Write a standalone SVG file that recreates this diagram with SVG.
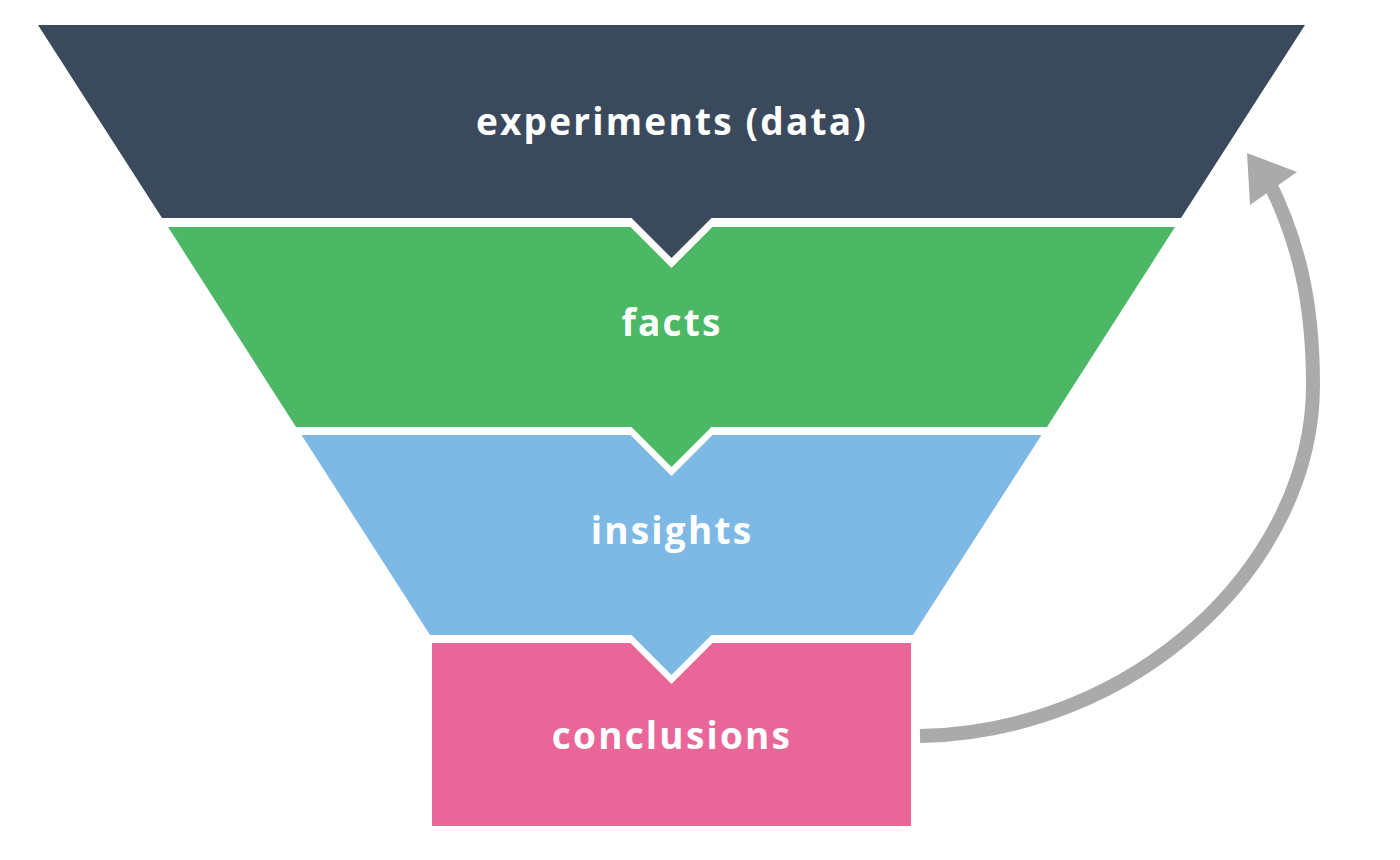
<svg xmlns="http://www.w3.org/2000/svg" width="1400" height="860" viewBox="0 0 1400 860">
<style>
.lbl{font-family:"Open Sans","Liberation Sans",sans-serif;font-weight:700;font-size:37px;letter-spacing:2.2px;fill:#ffffff;text-anchor:middle}
</style>
<rect width="1400" height="860" fill="#ffffff"/>
<g id="connectors">
<path d="M 920 736 C 1135 732 1313 565 1313 385 C 1313 300 1298 240 1268 180" fill="none" stroke="#aaaaaa" stroke-width="14"/>
<polygon points="1247,153 1297,172 1250,205" fill="#aaaaaa"/>
</g>
<g id="experiments">
<polygon points="38,25 1305,25 1181,218 711.5,218 671.5,258 631.5,218 162,218" fill="#3a4a5c"/>
<text class="lbl" x="672" y="135">experiments (data)</text>
</g>
<g id="facts">
<polygon points="168,227 630.5,227 671.5,268 712.5,227 1175,227 1047,427 711.5,427 671.5,467 631.5,427 296,427" fill="#4cb765"/>
<text class="lbl" x="672" y="336">facts</text>
</g>
<g id="insights">
<polygon points="301.5,435 630.5,435 671.5,476 712.5,435 1041.5,435 913,635 711.5,635 671.5,675 631.5,635 430,635" fill="#7db9e4"/>
<text class="lbl" x="672" y="544">insights</text>
</g>
<g id="conclusions">
<polygon points="432,643 630.5,643 671.5,684 712.5,643 911,643 911,826 432,826" fill="#ea6598"/>
<text class="lbl" x="672" y="749">conclusions</text>
</g>
</svg>
